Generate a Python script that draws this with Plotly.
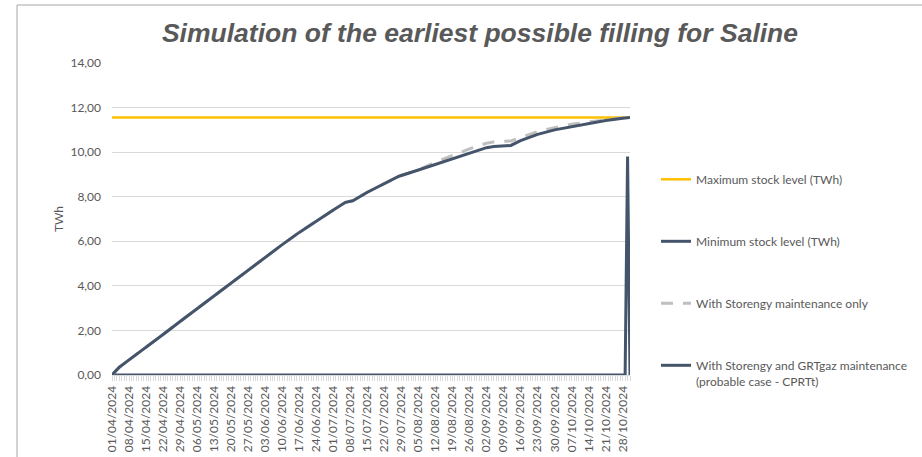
import plotly.graph_objects as go

# ---------------- data ----------------
start_date = "2024-04-01"
end_date = "2024-10-31"

max_dates = ["2024-04-01", "2024-10-31"]
max_values = [11.55, 11.55]

min_dates = ["2024-04-01", "2024-10-29", "2024-10-30", "2024-10-31"]
min_values = [0.0, 0.0, 9.8, 0.0]

grt_dates = ["2024-04-01", "2024-04-04", "2024-04-08", "2024-04-11", "2024-04-15",
             "2024-04-22", "2024-04-29", "2024-05-06", "2024-05-13", "2024-05-20",
             "2024-05-27", "2024-06-03", "2024-06-10", "2024-06-17", "2024-06-24",
             "2024-07-01", "2024-07-06", "2024-07-09", "2024-07-15", "2024-07-22",
             "2024-07-28", "2024-08-05", "2024-08-12", "2024-08-19", "2024-08-26",
             "2024-09-02", "2024-09-05", "2024-09-12", "2024-09-16", "2024-09-23",
             "2024-09-30", "2024-10-07", "2024-10-14", "2024-10-21", "2024-10-28",
             "2024-10-31"]
grt_values = [0.00, 0.35, 0.68, 0.92, 1.22,
              1.82, 2.40, 2.98, 3.55, 4.12,
              4.68, 5.30, 5.85, 6.40, 6.92,
              7.40, 7.75, 7.82, 8.20, 8.60,
              8.92, 9.20, 9.45, 9.72, 9.98,
              10.20, 10.25, 10.30, 10.52, 10.80,
              11.00, 11.15, 11.28, 11.42, 11.52,
              11.56]

sto_dates = ["2024-04-01", "2024-04-04", "2024-04-08", "2024-04-11", "2024-04-15",
             "2024-04-22", "2024-04-29", "2024-05-06", "2024-05-13", "2024-05-20",
             "2024-05-27", "2024-06-03", "2024-06-10", "2024-06-17", "2024-06-24",
             "2024-07-01", "2024-07-06", "2024-07-09", "2024-07-15", "2024-07-22",
             "2024-07-28", "2024-08-05", "2024-08-12", "2024-08-19", "2024-08-26",
             "2024-09-02", "2024-09-05", "2024-09-12", "2024-09-16", "2024-09-23",
             "2024-09-30", "2024-10-07", "2024-10-14", "2024-10-21", "2024-10-28",
             "2024-10-31"]
sto_values = [0.00, 0.35, 0.68, 0.92, 1.22,
              1.82, 2.40, 2.98, 3.55, 4.12,
              4.68, 5.30, 5.85, 6.40, 6.92,
              7.40, 7.75, 7.82, 8.20, 8.60,
              8.92, 9.20, 9.55, 9.85, 10.15,
              10.40, 10.46, 10.50, 10.65, 10.92,
              11.10, 11.25, 11.36, 11.46, 11.53,
              11.56]

series_names = ["Maximum stock level (TWh)",
                "Minimum stock level (TWh)",
                "With Storengy maintenance only",
                "With Storengy and GRTgaz maintenance<br>(probable case - CPRTt)"]

title_text = "Simulation of the earliest possible filling for Saline"
y_title = "TWh"

# ---------------- styles ----------------
DARK = "#44546A"
GOLD = "#FFC000"
GREY = "#BFBFBF"
TXT = "#595959"
GRID = "#D9D9D9"
FONT = "Lato"

W, H = 922, 457
L, R, T, B = 112, 292, 63, 82
pw, ph = W - L - R, H - T - B


def px_x(p):
    return (p - L) / pw


def px_y(p):
    return (H - B - p) / ph


fig = go.Figure()
fig.add_trace(go.Scatter(x=max_dates, y=max_values, mode="lines", name=series_names[0],
                         line=dict(color=GOLD, width=2.5), legendgroup="a", cliponaxis=False))
fig.add_trace(go.Scatter(x=min_dates, y=min_values, mode="lines", name=series_names[1],
                         line=dict(color=DARK, width=3), legendgroup="b", cliponaxis=False))
fig.add_trace(go.Scatter(x=sto_dates, y=sto_values, mode="lines", name=series_names[2],
                         line=dict(color=GREY, width=3, dash="12px,10px"), legendgroup="c",
                         cliponaxis=False))
fig.add_trace(go.Scatter(x=grt_dates, y=grt_values, mode="lines", name=series_names[3],
                         line=dict(color=DARK, width=3), legendgroup="d", cliponaxis=False))

DAY = 86400000

fig.update_layout(
    width=W, height=H,
    margin=dict(l=L, r=R, t=T, b=B, autoexpand=False),
    paper_bgcolor="white", plot_bgcolor="white",
    separators=", ",
    showlegend=True,
    title=dict(text=title_text, xref="container", yref="container",
               x=480 / W, y=1 - 33 / H, xanchor="center", yanchor="middle",
               font=dict(family="Liberation Sans", size=26.5, color=TXT,
                         weight="bold", style="italic")),
    legend=dict(x=px_x(656), y=px_y(165), xanchor="left", yanchor="top",
                font=dict(family=FONT, size=12, color=TXT),
                tracegroupgap=43, valign="top", bgcolor="rgba(0,0,0,0)"),
    xaxis=dict(type="date", range=[start_date, end_date],
               tick0=start_date, dtick=7 * DAY, tickformat="%d/%m/%Y",
               tickangle=-90, ticks="outside", ticklen=5, tickcolor=GRID,
               minor=dict(dtick=DAY, ticks="outside", ticklen=5, tickcolor=GRID, showgrid=False),
               showgrid=False, showline=True, linecolor=GRID, zeroline=False,
               tickfont=dict(family=FONT, size=12, color=TXT)),
    yaxis=dict(range=[0, 14], dtick=2, tickformat=".2f",
               showgrid=True, gridcolor=GRID, gridwidth=1, zeroline=False,
               showline=False, ticks="", ticklabelstandoff=10,
               tickfont=dict(family=FONT, size=12, color=TXT),
               title=dict(text=y_title, standoff=4,
                          font=dict(family=FONT, size=12, color=TXT))),
    shapes=[dict(type="rect", xref="paper", yref="paper",
                 x0=px_x(17), x1=px_x(1200), y0=px_y(900), y1=px_y(5),
                 line=dict(color="#A6A6A6", width=1), fillcolor="rgba(0,0,0,0)",
                 layer="below")],
)

fig.write_html("out.html",
               config={"displayModeBar": False},
               post_script="document.body.style.margin='0';document.body.style.overflow='hidden';")
